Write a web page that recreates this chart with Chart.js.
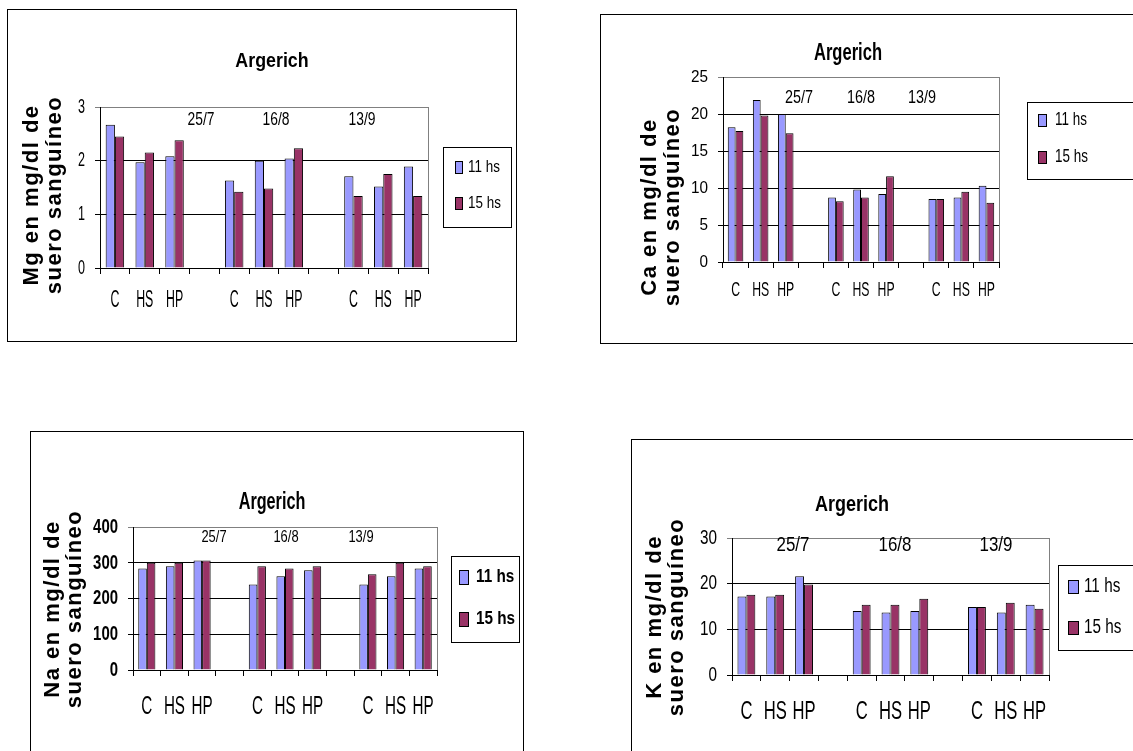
<!DOCTYPE html>
<html>
<head>
<meta charset="utf-8">
<script src="https://cdn.jsdelivr.net/npm/chart.js@4.4.1/dist/chart.umd.min.js"></script>
<style>
  html, body { margin: 0; padding: 0; background: #fff; width: 1133px; height: 751px; overflow: hidden; }
  .box { position: absolute; border: 1px solid #000; box-sizing: border-box; background: #fff; }
  .box canvas { display: block; }
</style>
</head>
<body>
<script>
const categories = ['C', 'HS', 'HP', '', 'C', 'HS', 'HP', '', 'C', 'HS', 'HP'];
const dates = ['25/7', '16/8', '13/9'];
const seriesNames = ['11 hs', '15 hs'];
const chartTitle = 'Argerich';

// Mg
const mg11 = [2.67, 1.97, 2.08, null, 1.63, 2.0, 2.04, null, 1.71, 1.52, 1.89];
const mg15 = [2.45, 2.15, 2.38, null, 1.42, 1.48, 2.23, null, 1.34, 1.75, 1.34];
const mgTitle = ['Mg en mg/dl de', 'suero sanguíneo'];
const mgTicks = [0, 1, 2, 3];

// Ca
const ca11 = [18.2, 21.9, 20.0, null, 8.7, 9.8, 9.2, null, 8.5, 8.7, 10.3];
const ca15 = [17.7, 19.8, 17.4, null, 8.2, 8.7, 11.6, null, 8.5, 9.5, 8.0];
const caTitle = ['Ca en mg/dl de', 'suero sanguíneo'];
const caTicks = [0, 5, 10, 15, 20, 25];

// Na
const na11 = [284, 290, 306, null, 239, 262, 279, null, 239, 262, 284];
const na15 = [300, 300, 306, null, 290, 284, 290, null, 268, 300, 290];
const naTitle = ['Na en mg/dl de', 'suero sanguíneo'];
const naTicks = [0, 100, 200, 300, 400];

// K
const k11 = [17.2, 17.2, 21.6, null, 14.0, 13.7, 14.0, null, 14.9, 13.7, 15.4];
const k15 = [17.6, 17.6, 19.8, null, 15.4, 15.4, 16.7, null, 14.9, 15.8, 14.5];
const kTitle = ['K en mg/dl de', 'suero sanguíneo'];
const kTicks = [0, 10, 20, 30];

const BLUE = '#9999ff';
const PLUM = '#993366';
const SANS = "'Liberation Sans', Arial, sans-serif";

// page positions (px) of each panel; text styles are [size, scaleX, scaleY]
// because the original picture is squashed sideways
const panels = [
  { values: [mg11, mg15], ticks: mgTicks, ytitle: mgTitle,
    box: [7, 9, 517, 342], plot: [100, 107, 428, 268], title: [272, 61], yt: [32, 55, 195],
    dateY: 120, dateX: [201, 276, 362], leg: [443, 147, 511, 227], legY: [167, 203], legX: [455, 468],
    sw: [7, 12], lab: 32,
    tx: [19, 0.65, 1.25], ty: [17, 0.74, 1.23], yBold: false,
    tt: [18, 0.99, 1.16], td: [18, 0.77, 1.0], tl: [17, 0.79, 1.0], lBold: false },
  { values: [ca11, ca15], ticks: caTicks, ytitle: caTitle,
    box: [600, 14, 1145, 344], plot: [723, 77, 999, 262], title: [848, 54], yt: [650, 673, 207],
    dateY: 98, dateX: [799, 861, 922], leg: [1027, 102, 1145, 179], legY: [120, 157], legX: [1038, 1055],
    sw: [8, 12], lab: 28,
    tx: [18, 0.68, 1.16], ty: [17, 0.9, 1.0], yBold: false,
    tt: [18, 0.92, 1.3], td: [18, 0.8, 1.0], tl: [17, 0.79, 1.07], lBold: false },
  { values: [na11, na15], ticks: naTicks, ytitle: naTitle,
    box: [30, 431, 524, 760], plot: [133, 527, 437, 670], title: [272, 503], yt: [53, 75, 609],
    dateY: 537, dateX: [214, 286, 361], leg: [451, 556, 519, 642], legY: [577, 619], legX: [459, 476],
    sw: [9, 14], lab: 37,
    tx: [20, 0.76, 1.26], ty: [18, 0.83, 1.16], yBold: true,
    tt: [18, 0.9, 1.3], td: [17, 0.76, 1.0], tl: [17, 0.9, 1.07], lBold: true },
  { values: [k11, k15], ticks: kTicks, ytitle: kTitle,
    box: [631, 439, 1145, 760], plot: [732, 538, 1049, 675], title: [852, 505], yt: [655, 677, 617],
    dateY: 545, dateX: [793, 895, 996], leg: [1058, 565, 1145, 650], legY: [586, 627], legX: [1068, 1084],
    sw: [10, 13], lab: 37,
    tx: [20, 0.83, 1.26], ty: [18, 0.85, 1.16], yBold: false,
    tt: [18, 1.0, 1.25], td: [18, 0.94, 1.16], tl: [18, 0.85, 1.16], lBold: false }
];

function stretched(ctx, s, x, y, k) {
  ctx.save();
  ctx.translate(x, y);
  ctx.scale(k[1], k[2]);
  ctx._plain(s, 0, 0);
  ctx.restore();
}

function makePanel(p) {
  const [bl, bt, br, bb] = p.box;
  const div = document.createElement('div');
  div.className = 'box';
  div.style.left = bl + 'px';
  div.style.top = bt + 'px';
  div.style.width = (br - bl) + 'px';
  div.style.height = (bb - bt) + 'px';
  const cv = document.createElement('canvas');
  const W = br - bl - 2, H = bb - bt - 2;
  cv.width = W;
  cv.height = H;
  div.appendChild(cv);
  document.body.appendChild(div);

  const ox = bl + 1, oy = bt + 1;
  const [pl, pt, pr, pb] = p.plot;
  const YW = 40, XH = 50;
  const max = p.ticks[p.ticks.length - 1];

  const decor = {
    id: 'decor',
    beforeDraw(chart) {
      // narrow, tall tick labels like the scanned original
      const ctx = chart.ctx;
      if (ctx._plain) return;
      const plain = ctx.fillText;
      ctx._plain = plain;
      ctx.fillText = function (s, x, y) {
        const k = this.textAlign === 'right' ? p.ty : p.tx;
        this.save();
        this.translate(x, y);
        this.scale(k[1], k[2]);
        plain.call(this, s, 0, 0);
        this.restore();
      };
    },
    beforeDatasetsDraw(chart) {
      const { ctx, chartArea: a } = chart;
      const x = Math.round(a.right) + 0.5;
      ctx.save();
      ctx.strokeStyle = '#808080';
      ctx.lineWidth = 1;
      ctx.beginPath();
      ctx.moveTo(x, a.top);
      ctx.lineTo(x, a.bottom);
      ctx.stroke();
      ctx.restore();
    },
    afterDraw(chart) {
      const ctx = chart.ctx;
      ctx.save();
      ctx.fillStyle = '#000';
      ctx.textAlign = 'center';
      ctx.textBaseline = 'middle';

      ctx.font = `bold ${p.tt[0]}px ${SANS}`;
      stretched(ctx, chartTitle, p.title[0] - ox, p.title[1] - oy, p.tt);

      ctx.font = `${p.td[0]}px ${SANS}`;
      dates.forEach((d, i) => stretched(ctx, d, p.dateX[i] - ox, p.dateY - oy, p.td));

      // axis title, spaced out like the original
      ctx.font = `bold 22px ${SANS}`;
      ctx.letterSpacing = '1.5px';
      p.ytitle.forEach((t, i) => {
        ctx.save();
        ctx.translate(p.yt[i] - ox, p.yt[2] - oy);
        ctx.rotate(-Math.PI / 2);
        ctx._plain(t, 0, 0);
        ctx.restore();
      });
      ctx.letterSpacing = '0px';

      // legend box
      const [l, t, r, b] = p.leg;
      ctx.fillStyle = '#fff';
      ctx.fillRect(l - ox, t - oy, r - l, b - t);
      ctx.strokeStyle = '#000';
      ctx.lineWidth = 1;
      ctx.strokeRect(l - ox + 0.5, t - oy + 0.5, r - l, b - t);
      ctx.textAlign = 'left';
      ctx.font = `${p.lBold ? 'bold ' : ''}${p.tl[0]}px ${SANS}`;
      chart.data.datasets.forEach((ds, i) => {
        const y = p.legY[i] - oy;
        const sx = p.legX[0] - ox;
        const [w, h] = p.sw;
        ctx.fillStyle = ds.backgroundColor;
        ctx.fillRect(sx, Math.round(y - h / 2), w, h);
        ctx.strokeRect(sx + 0.5, Math.round(y - h / 2) + 0.5, w, h);
        ctx.fillStyle = '#000';
        stretched(ctx, ds.label, p.legX[1] - ox, y, p.tl);
      });
      ctx.restore();
    }
  };

  new Chart(cv, {
    type: 'bar',
    data: {
      labels: categories,
      datasets: seriesNames.map((name, i) => ({
        label: name,
        data: p.values[i],
        backgroundColor: i ? PLUM : BLUE,
        borderColor: '#000',
        borderWidth: 1,
        categoryPercentage: 0.62,
        barPercentage: 1
      }))
    },
    options: {
      responsive: false,
      animation: false,
      layout: {
        padding: { left: pl - ox - YW, top: pt - oy, right: ox + W - pr, bottom: oy + H - pb - XH }
      },
      plugins: { legend: { display: false }, tooltip: { enabled: false } },
      scales: {
        x: {
          grid: { offset: true, drawOnChartArea: false, tickLength: 6, color: '#000' },
          border: { color: '#000' },
          ticks: {
            color: '#000', autoSkip: false, maxRotation: 0,
            padding: p.lab - 6 - 0.6 * p.tx[0],
            font: { family: SANS, size: p.tx[0] }
          },
          afterFit: s => { s.height = XH; }
        },
        y: {
          min: 0,
          max: max,
          afterBuildTicks: s => { s.ticks = p.ticks.map(v => ({ value: v })); },
          grid: { tickLength: 5, color: c => (c.tick && c.tick.value === max ? '#808080' : '#000') },
          border: { color: '#000' },
          ticks: {
            color: '#000', padding: 10,
            font: { family: SANS, size: p.ty[0], weight: p.yBold ? 'bold' : 'normal' }
          },
          afterFit: s => { s.width = YW; }
        }
      }
    },
    plugins: [decor]
  });
}

panels.forEach(makePanel);
</script>
</body>
</html>
